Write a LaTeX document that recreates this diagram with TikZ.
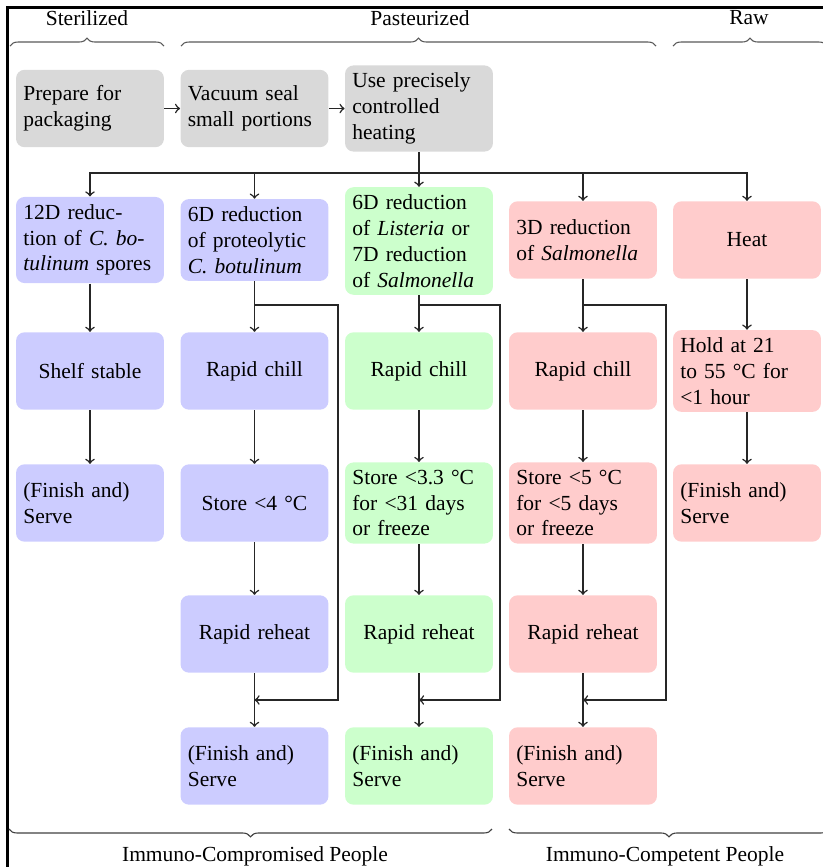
\documentclass[tikz,border=0pt]{standalone}
\usepackage{fontspec}
\setmainfont{Liberation Serif}
\usetikzlibrary{decorations.pathreplacing}
\begin{document}
\begin{tikzpicture}[x=0.465pt,y=-0.465pt,
  box/.style={rounded corners=4pt, text width=62pt, inner xsep=3.4pt, inner ysep=3.5pt,
    minimum height=36pt, align=left, font=\fontsize{10}{12}\selectfont},
  gbox/.style={box, fill=gray!30},
  bbox/.style={box, fill=blue!20},
  gnbox/.style={box, fill=green!20},
  rbox/.style={box, fill=red!20},
  conn/.style={line width=0.7pt, draw=black!85},
  arr/.style={conn, ->},
  brc/.style={decorate, decoration={brace, amplitude=3.7pt}, draw=black!65, line width=0.5pt},
  lbl/.style={font=\fontsize{10}{12}\selectfont, inner sep=0pt}]
\useasboundingbox (0,0) rectangle (823,867);
\clip (0,0) rectangle (823,867);
% frame
\draw[line width=0.95pt] (7.5,880) -- (7.5,7.5) -- (840,7.5);
% headers
\node[lbl] (h1) at (87,18) {Sterilized};
\node[lbl] (h2) at (420,18) {Pasteurized};
\node[lbl] (h3) at (749,18) {Raw};
\draw[brc] (10,46) -- (164,46);
\draw[brc] (181,46) -- (656,46);
\draw[brc] (673,46) -- (827,46);
% footers
\node[lbl] (f1) at (255,856) {Immuno-Compromised People};
\node[lbl] (f2) at (665,856) {Immuno-Competent People};
\draw[brc, draw=black!75] (492,829) -- (9,829);
\draw[brc, draw=black!75] (829,829) -- (509,829);
% row 1
\node[gbox] (a1) at (90,108.5) {Prepare for\\packaging};
\node[gbox] (a2) at (254.5,108.5) {Vacuum seal\\small portions};
\node[gbox] (a3) at (419,108.5) {Use precisely\\controlled\\heating};
% row 2
\node[bbox] (r2c1) at (90,240) {12D reduc-\\tion of \textit{C. bo-}\\\textit{tulinum} spores};
\node[bbox] (r2c2) at (254.5,240) {6D reduction\\of proteolytic\\\textit{C. botulinum}};
\node[gnbox] (r2c3) at (419,241) {6D reduction\\of \textit{Listeria} or\\7D reduction\\of \textit{Salmonella}};
\node[rbox] (r2c4) at (583,240) {3D reduction\\of \textit{Salmonella}};
\node[rbox, align=center] (r2c5) at (747,240) {Heat};
% row 3
\node[bbox, align=center] (r3c1) at (90,371) {Shelf stable};
\node[bbox, align=center] (r3c2) at (254.5,371) {Rapid chill};
\node[gnbox, align=center] (r3c3) at (419,371) {Rapid chill};
\node[rbox, align=center] (r3c4) at (583,371) {Rapid chill};
\node[rbox] (r3c5) at (747,371) {Hold at 21\\to 55 °C for\\<1 hour};
% row 4
\node[bbox] (r4c1) at (90,503) {(Finish and)\\Serve};
\node[bbox, align=center] (r4c2) at (254.5,503) {Store <4 °C};
\node[gnbox] (r4c3) at (419,503) {Store <3.3 °C\\for <31 days\\or freeze};
\node[rbox] (r4c4) at (583,503) {Store <5 °C\\for <5 days\\or freeze};
\node[rbox] (r4c5) at (747,503) {(Finish and)\\Serve};
% row 5
\node[bbox, align=center] (r5c2) at (254.5,634) {Rapid reheat};
\node[gnbox, align=center] (r5c3) at (419,634) {Rapid reheat};
\node[rbox, align=center] (r5c4) at (583,634) {Rapid reheat};
% row 6
\node[bbox] (r6c2) at (254.5,766) {(Finish and)\\Serve};
\node[gnbox] (r6c3) at (419,766) {(Finish and)\\Serve};
\node[rbox] (r6c4) at (583,766) {(Finish and)\\Serve};
% connectors row 1
\draw[arr] (a1) -- (a2);
\draw[arr] (a2) -- (a3);
\coordinate (bus) at (419,173);
\draw[conn] (a3) -- (bus);
\draw[arr] (bus) -| (r2c1);
\draw[arr] (bus) -| (r2c2);
\draw[arr] (bus) -- (r2c3);
\draw[arr] (bus) -| (r2c4);
\draw[arr] (bus) -| (r2c5);
% column 1
\draw[arr] (r2c1) -- (r3c1);
\draw[arr] (r3c1) -- (r4c1);
% column 5
\draw[arr] (r2c5) -- (r3c5);
\draw[arr] (r3c5) -- (r4c5);
% columns 2-4
\foreach \c/\x/\rx in {2/254.5/338, 3/419/500, 4/583/666}{
  \draw[arr] (r2c\c) -- (r3c\c);
  \draw[arr] (r3c\c) -- (r4c\c);
  \draw[arr] (r4c\c) -- (r5c\c);
  \draw[arr] (r5c\c) -- (r6c\c);
  \coordinate (j\c) at (\x,305);
  \coordinate (k\c) at (\rx,700);
  \coordinate (m\c) at (\x,700);
  \draw[arr] (j\c) -| (k\c) -- (m\c);
}
\end{tikzpicture}
\end{document}
